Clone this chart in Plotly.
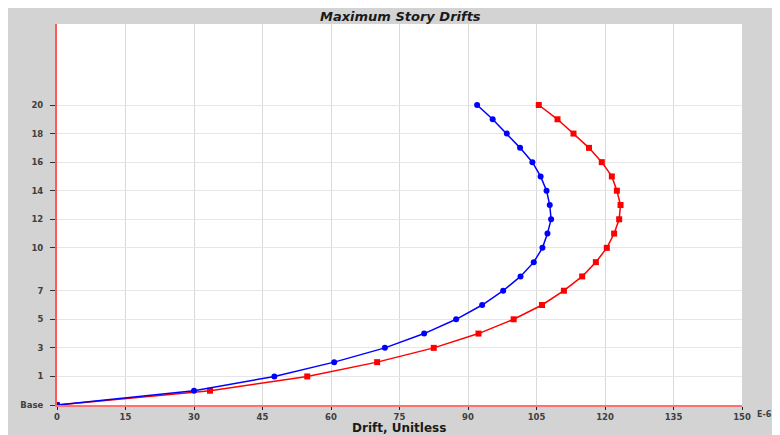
import plotly.graph_objects as go

# Story positions (Base = 0, unlabeled level = 1, story n = n + 1)
story_pos = [0, 1, 2, 3, 4, 5, 6, 7, 8, 9, 10, 11, 12, 13, 14, 15, 16, 17, 18, 19, 20, 21]
tick_pos = [0, 2, 4, 6, 8, 11, 13, 15, 17, 19, 21]
tick_text = ["Base", "1", "3", "5", "7", "10", "12", "14", "16", "18", "20"]
x_ticks = [0, 15, 30, 45, 60, 75, 90, 105, 120, 135, 150]

# Drift values (E-6)
drift_blue = [0, 30.0, 47.6, 60.7, 71.8, 80.4, 87.4, 93.1, 97.7, 101.5, 104.4, 106.3,
              107.4, 108.2, 107.9, 107.2, 105.9, 104.1, 101.4, 98.5, 95.4, 92.0]
drift_red = [0, 33.5, 54.8, 70.1, 82.5, 92.3, 100.0, 106.2, 111.0, 115.0, 118.0, 120.4,
             122.0, 123.1, 123.4, 122.6, 121.5, 119.3, 116.5, 113.1, 109.6, 105.5]

fig = go.Figure()
fig.add_trace(go.Scatter(x=drift_red, y=story_pos, mode="lines+markers",
                         line=dict(color="#ff0000", width=1.5),
                         marker=dict(symbol="square", size=6, color="#ff0000"),
                         showlegend=False))
fig.add_trace(go.Scatter(x=drift_blue, y=story_pos, mode="lines+markers",
                         line=dict(color="#0000ff", width=1.5),
                         marker=dict(symbol="circle", size=6, color="#0000ff"),
                         showlegend=False))

W, H = 780, 435
OX, OY = 8, 8  # page body offset
L, T = 57 - OX, 24 - OY
pw, ph = 685, 381
R = W - L - pw
B = H - T - ph


def py(screen_y):
    return (H - B - (screen_y - OY)) / ph


def px(screen_x):
    return (screen_x - OX - L) / pw


FONT = "DejaVu Sans, Verdana, sans-serif"
tick_font = dict(family=FONT, size=8.5, color="#404040", weight="bold")

fig.update_layout(
    template="none",
    width=W, height=H,
    margin=dict(l=L, r=R, t=T, b=B, pad=0, autoexpand=False),
    paper_bgcolor="#d3d3d3",
    plot_bgcolor="white",
    font=dict(family=FONT, size=9, color="#404040"),
    xaxis=dict(range=[0, 150], tickvals=x_ticks, ticktext=[str(v) for v in x_ticks],
               showgrid=True, gridcolor="#d9d9d9", gridwidth=1,
               showline=True, linecolor="#ff7070", linewidth=1.5,
               ticks="outside", ticklen=3, tickcolor="#222", tickwidth=1,
               tickfont=tick_font,
               zeroline=False, fixedrange=True, automargin=False),
    yaxis=dict(range=[0, 26.67], tickvals=tick_pos, ticktext=tick_text,
               showgrid=True, gridcolor="#e6e6e6", gridwidth=1,
               showline=True, linecolor="#ff5a5a", linewidth=2,
               ticks="outside", ticklen=5, tickcolor="#333", tickwidth=1,
               ticklabelstandoff=5,
               tickfont=tick_font,
               zeroline=False, fixedrange=True, automargin=False),
    annotations=[
        dict(text="<b><i>Maximum Story Drifts</i></b>", xref="paper", yref="paper",
             x=px(400), y=1 + T / ph, xanchor="center", yanchor="top", showarrow=False,
             borderpad=0, font=dict(family=FONT, size=13, color="#1a1a1a")),
        dict(text="<b>Drift, Unitless</b>", xref="paper", yref="paper",
             x=px(399), y=py(428), xanchor="center", yanchor="middle", showarrow=False,
             font=dict(family=FONT, size=12, color="#1a1a1a")),
        dict(text="<b>E-6</b>", xref="paper", yref="paper", x=px(756), y=py(414.5),
             xanchor="left", yanchor="middle", showarrow=False, borderpad=0,
             font=dict(family=FONT, size=8, color="#404040", weight="bold")),
    ],
)

fig.write_html("out.html")
